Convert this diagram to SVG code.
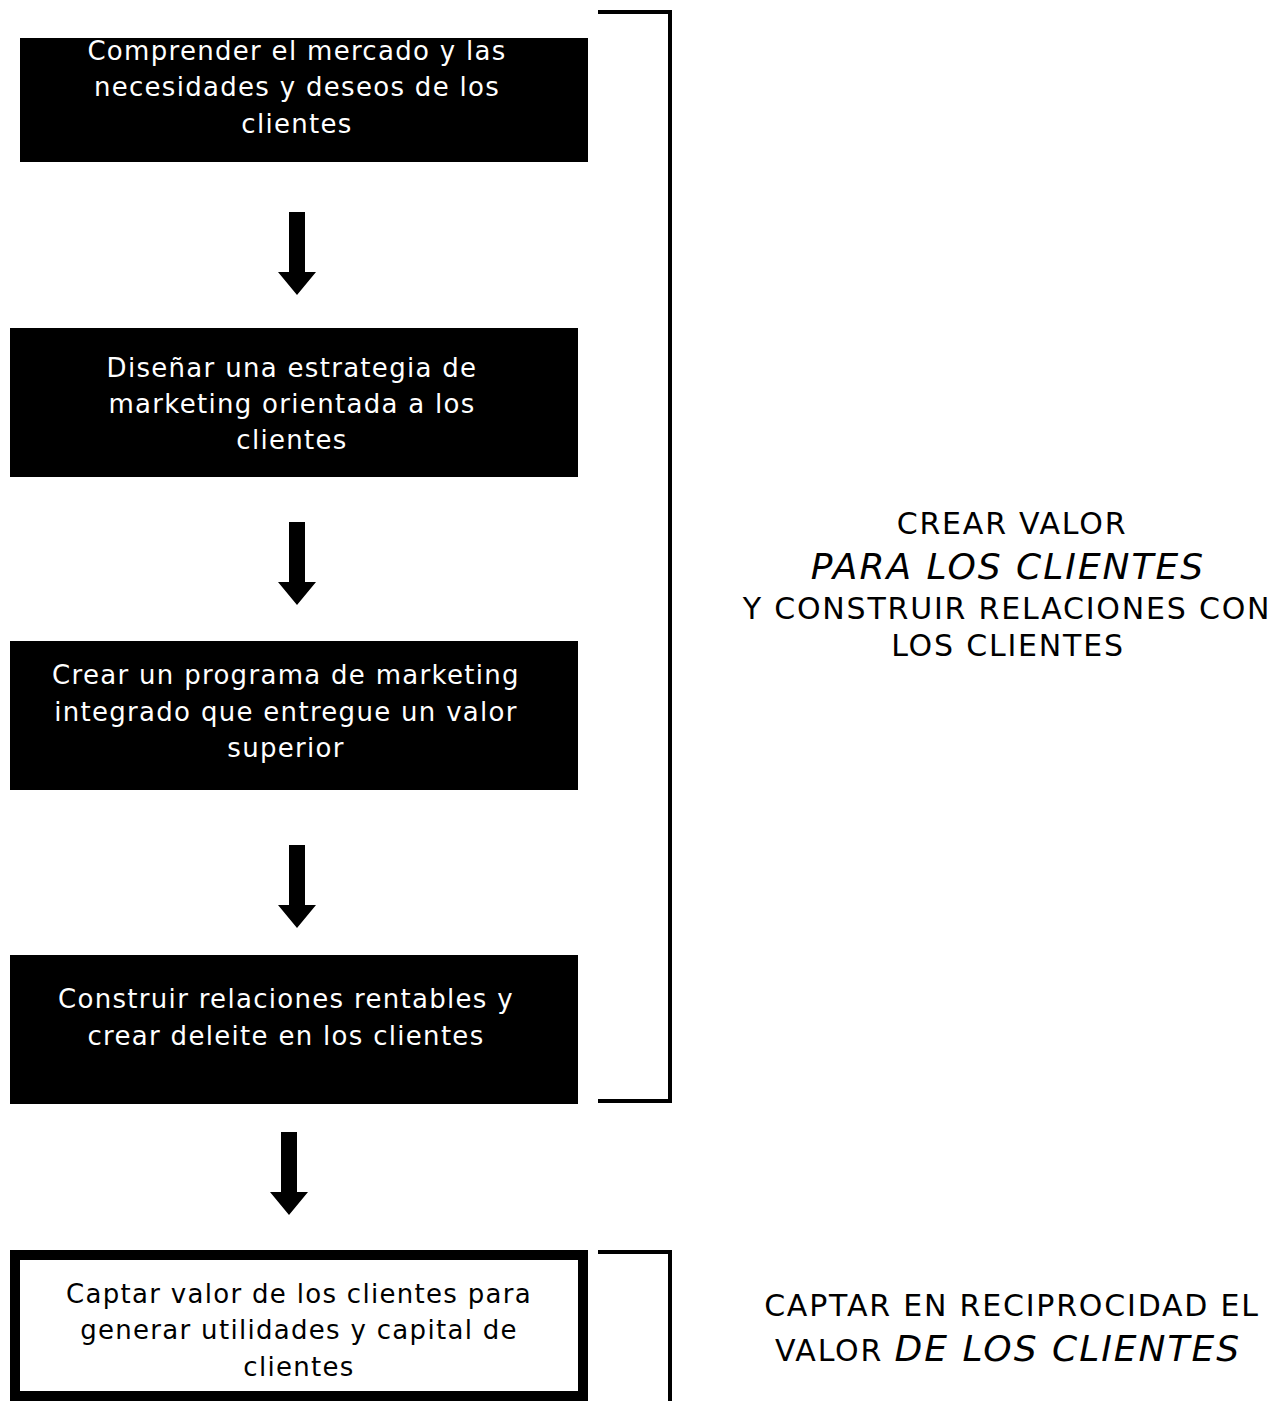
<svg xmlns="http://www.w3.org/2000/svg" width="1282" height="1401" viewBox="0 0 1282 1401">
<style>
.box{fill:#000}
.tw{fill:#fff;font-family:"DejaVu Sans","Noto Sans",sans-serif;font-size:26px;letter-spacing:1.3px;text-anchor:middle}
.tb{fill:#000;font-family:"DejaVu Sans","Noto Sans",sans-serif;font-size:26px;letter-spacing:1.3px;text-anchor:middle}
.side{fill:#000;font-family:"DejaVu Sans","Noto Sans",sans-serif;font-size:30px;letter-spacing:1.8px;text-anchor:middle}
.it{font-style:italic;font-size:36px;letter-spacing:2px}
.br{fill:none;stroke:#000;stroke-width:4}
</style>
<defs>
<path id="arr" d="M-8,0 H8 V60 H19 L0,83 L-19,60 H-8 Z" fill="#000"/>
</defs>
<g id="n1"><rect class="box" x="20" y="38" width="568" height="124"/>
<text class="tw" x="297" y="60">Comprender el mercado y las</text>
<text class="tw" x="297" y="96">necesidades y deseos de los</text>
<text class="tw" x="297" y="133">clientes</text></g>
<g id="n2"><rect class="box" x="10" y="328" width="568" height="149"/>
<text class="tw" x="292" y="377">Diseñar una estrategia de</text>
<text class="tw" x="292" y="413">marketing orientada a los</text>
<text class="tw" x="292" y="449">clientes</text></g>
<g id="n3"><rect class="box" x="10" y="641" width="568" height="149"/>
<text class="tw" x="286" y="684">Crear un programa de marketing</text>
<text class="tw" x="286" y="721">integrado que entregue un valor</text>
<text class="tw" x="286" y="757">superior</text></g>
<g id="n4"><rect class="box" x="10" y="955" width="568" height="149"/>
<text class="tw" x="286" y="1008">Construir relaciones rentables y</text>
<text class="tw" x="286" y="1045">crear deleite en los clientes</text></g>
<g id="n5"><rect x="15" y="1255" width="568" height="141" fill="#fff" stroke="#000" stroke-width="10"/>
<text class="tb" x="299" y="1303">Captar valor de los clientes para</text>
<text class="tb" x="299" y="1339">generar utilidades y capital de</text>
<text class="tb" x="299" y="1376">clientes</text></g>
<g id="connectors">
<use href="#arr" x="297" y="212"/>
<use href="#arr" x="297" y="522"/>
<use href="#arr" x="297" y="845"/>
<use href="#arr" x="289" y="1132"/>
</g>
<g id="bracket1"><path class="br" d="M598,12 H670 V1101 H598"/></g>
<g id="bracket2"><path class="br" d="M598,1252 H670 V1401"/></g>
<g id="label1">
<text class="side" x="1012" y="534">CREAR VALOR</text>
<text class="side it" x="1008" y="579">PARA LOS CLIENTES</text>
<text class="side" x="1007" y="619">Y CONSTRUIR RELACIONES CON</text>
<text class="side" x="1008" y="656">LOS CLIENTES</text>
</g>
<g id="label2">
<text class="side" x="1012" y="1316">CAPTAR EN RECIPROCIDAD EL</text>
<text class="side" x="1008" y="1361">VALOR <tspan class="it">DE LOS CLIENTES</tspan></text>
</g>
</svg>
